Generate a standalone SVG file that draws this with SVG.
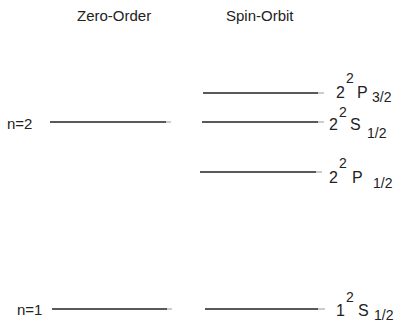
<svg xmlns="http://www.w3.org/2000/svg" width="396" height="322" viewBox="0 0 396 322">
<style>
text{font-family:"Liberation Sans",Arial,sans-serif;fill:#222}
.t{font-size:15px}
.m{font-size:16px}
.s{font-size:14px}
.lv{stroke:#222;stroke-width:1.5;fill:none}
.tail{stroke:#bbb;stroke-width:1.5;fill:none}
</style>
<rect width="396" height="322" fill="#fff"/>
<g id="headers">
<text class="t" x="77" y="21">Zero-Order</text>
<text class="t" x="226" y="21">Spin-Orbit</text>
</g>
<g id="n2">
<text class="t" x="7" y="129">n=2</text>
<line class="lv" x1="50" y1="122" x2="166" y2="122"/>
<line class="tail" x1="166" y1="122" x2="171" y2="122"/>
</g>
<g id="n1">
<text class="t" x="17" y="315">n=1</text>
<line class="lv" x1="52" y1="309" x2="167" y2="309"/>
<line class="tail" x1="167" y1="309" x2="172" y2="309"/>
</g>
<g id="P32">
<line class="lv" x1="203" y1="93" x2="318" y2="93"/>
<line class="tail" x1="318" y1="93" x2="324" y2="93"/>
<text class="m" x="336" y="98">2</text>
<text class="s" x="346" y="83">2</text>
<text class="m" x="357" y="98">P</text>
<text class="s" x="372" y="102">3/2</text>
</g>
<g id="S12">
<line class="lv" x1="202" y1="122" x2="318" y2="122"/>
<line class="tail" x1="318" y1="122" x2="324" y2="122"/>
<text class="m" x="329" y="130">2</text>
<text class="s" x="339" y="117">2</text>
<text class="m" x="350" y="130">S</text>
<text class="s" x="367" y="138">1/2</text>
</g>
<g id="P12">
<line class="lv" x1="200" y1="172" x2="316" y2="172"/>
<line class="tail" x1="316" y1="172" x2="322" y2="172"/>
<text class="m" x="329" y="183">2</text>
<text class="s" x="339" y="168">2</text>
<text class="m" x="352" y="183">P</text>
<text class="s" x="373" y="188">1/2</text>
</g>
<g id="S12n1">
<line class="lv" x1="205" y1="309" x2="318" y2="309"/>
<line class="tail" x1="318" y1="309" x2="325" y2="309"/>
<text class="m" x="336" y="316">1</text>
<text class="s" x="346" y="302">2</text>
<text class="m" x="358" y="316">S</text>
<text class="s" x="374" y="320">1/2</text>
</g>
</svg>
